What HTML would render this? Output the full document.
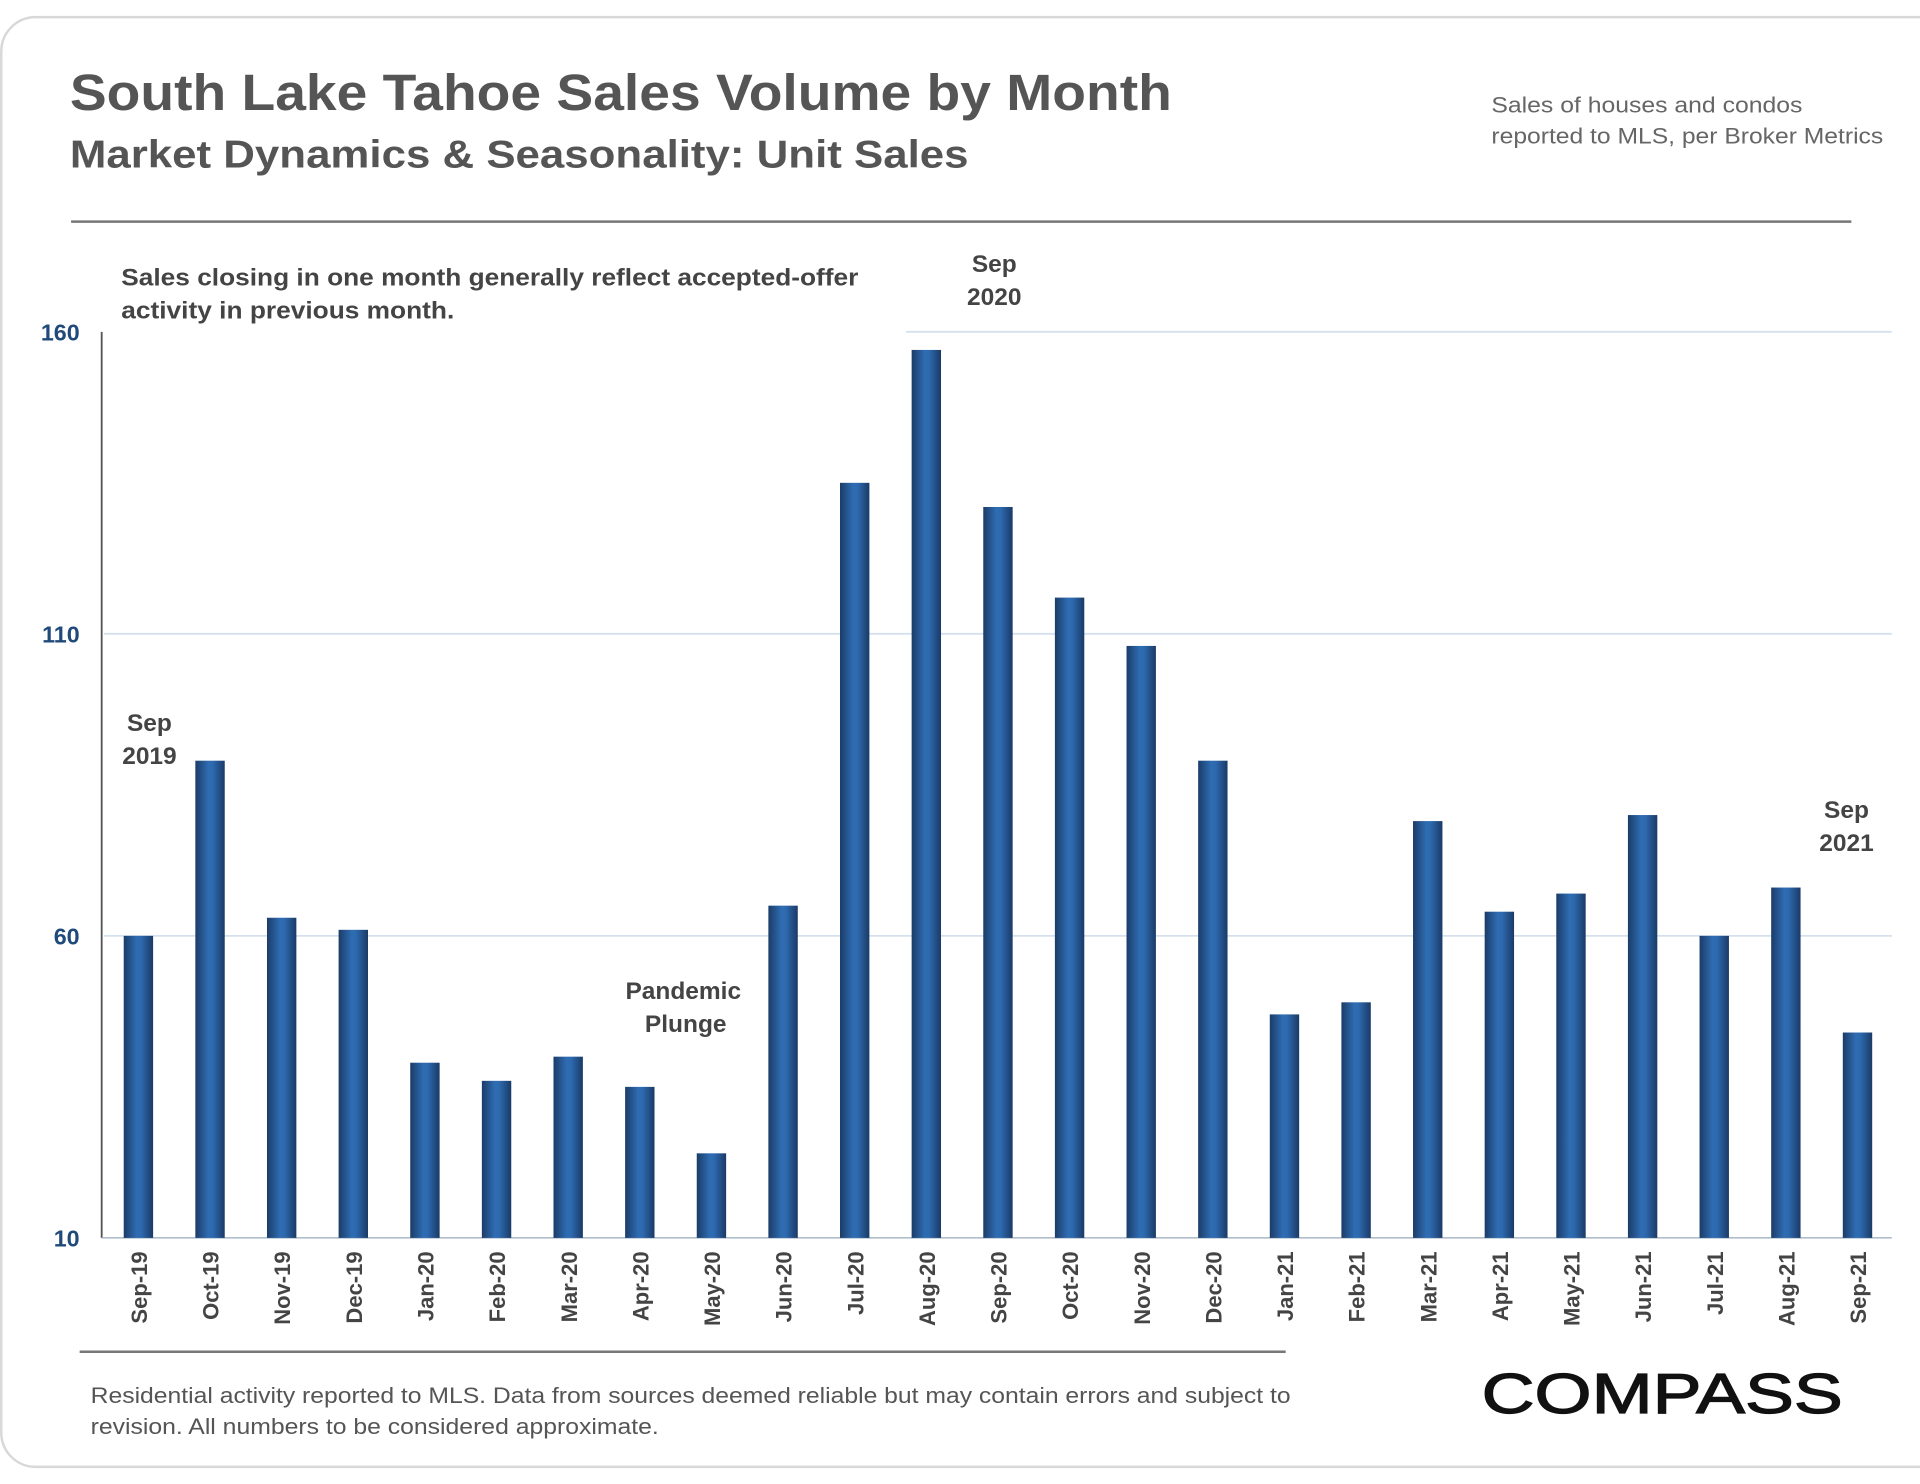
<!DOCTYPE html>
<html><head><meta charset="utf-8"><style>
html,body{margin:0;padding:0;background:#fff;}
svg{display:block;font-family:"Liberation Sans",sans-serif;}
</style></head><body>
<svg width="1920" height="1484" viewBox="0 0 1568 1212" xmlns="http://www.w3.org/2000/svg">
<defs>
<linearGradient id="bg" x1="0" x2="1" y1="0" y2="0">
<stop offset="0" stop-color="#1b3c68"/><stop offset="0.45" stop-color="#2f6db3"/><stop offset="0.6" stop-color="#2d69ae"/><stop offset="1" stop-color="#1a3a66"/>
</linearGradient>
</defs>
<rect x="1" y="14" width="1600" height="1184" rx="28" fill="#fff" stroke="#d8d8d8" stroke-width="2"/>
<text x="57" y="90" font-size="42" font-weight="bold" fill="#555" textLength="900" lengthAdjust="spacingAndGlyphs">South Lake Tahoe Sales Volume by Month</text>
<text x="57" y="137" font-size="32" font-weight="bold" fill="#555" textLength="734" lengthAdjust="spacingAndGlyphs">Market Dynamics &amp; Seasonality: Unit Sales</text>
<text x="1218" y="92" font-size="18" fill="#666" textLength="254" lengthAdjust="spacingAndGlyphs">Sales of houses and condos</text>
<text x="1218" y="117" font-size="18" fill="#666" textLength="320" lengthAdjust="spacingAndGlyphs">reported to MLS, per Broker Metrics</text>
<line x1="58" y1="181" x2="1512" y2="181" stroke="#777" stroke-width="2"/>
<text x="99" y="233" font-size="20" font-weight="bold" fill="#444" textLength="602" lengthAdjust="spacingAndGlyphs">Sales closing in one month generally reflect accepted-offer</text>
<text x="99" y="260" font-size="20" font-weight="bold" fill="#444" textLength="272" lengthAdjust="spacingAndGlyphs">activity in previous month.</text>
<g id="grid"></g>
<line x1="83" y1="271" x2="83" y2="1011" stroke="#555" stroke-width="1.5"/>
<line x1="83" y1="1011" x2="1545" y2="1011" stroke="#9ab" stroke-width="1"/>
<g id="bars"></g>
<g id="xlabels"></g>
<text x="122" y="597" font-size="20" font-weight="bold" fill="#444" text-anchor="middle">Sep</text>
<text x="122" y="624" font-size="20" font-weight="bold" fill="#444" text-anchor="middle">2019</text>
<text x="812" y="222" font-size="20" font-weight="bold" fill="#444" text-anchor="middle">Sep</text>
<text x="812" y="249" font-size="20" font-weight="bold" fill="#444" text-anchor="middle">2020</text>
<text x="1508" y="668" font-size="20" font-weight="bold" fill="#444" text-anchor="middle">Sep</text>
<text x="1508" y="695" font-size="20" font-weight="bold" fill="#444" text-anchor="middle">2021</text>
<text x="558" y="816" font-size="20" font-weight="bold" fill="#444" text-anchor="middle">Pandemic</text>
<text x="560" y="843" font-size="20" font-weight="bold" fill="#444" text-anchor="middle">Plunge</text>
<line x1="65" y1="1104" x2="1050" y2="1104" stroke="#777" stroke-width="2"/>
<text x="74" y="1146" font-size="18" fill="#555" textLength="980" lengthAdjust="spacingAndGlyphs">Residential activity reported to MLS. Data from sources deemed reliable but may contain errors and subject to</text>
<text x="74" y="1171" font-size="18" fill="#555" textLength="464" lengthAdjust="spacingAndGlyphs">revision. All numbers to be considered approximate.</text>
<text x="1210" y="1154" font-size="46" fill="#111" stroke="#111" stroke-width="1" textLength="295" lengthAdjust="spacingAndGlyphs">COMPASS</text>
</svg>
<script>
const categories=["Sep-19","Oct-19","Nov-19","Dec-19","Jan-20","Feb-20","Mar-20","Apr-20","May-20","Jun-20","Jul-20","Aug-20","Sep-20","Oct-20","Nov-20","Dec-20","Jan-21","Feb-21","Mar-21","Apr-21","May-21","Jun-21","Jul-21","Aug-21","Sep-21"];
const sales=[60,89,63,61,39,36,40,35,24,65,135,157,131,116,108,89,47,49,79,64,67,80,60,68,44];
const yTicks=[10,60,110,160];
const NS="http://www.w3.org/2000/svg";
const y=v=>1011-(v-10)*(740/150);
const x=i=>113+i*58.5;
const grid=document.getElementById('grid'),bars=document.getElementById('bars'),xl=document.getElementById('xlabels');
yTicks.forEach(t=>{
  if(t>10){const l=document.createElementNS(NS,'line');
  
  
  l.setAttribute('x1',t===160?740:85);l.setAttribute('x2',1545);l.setAttribute('y1',y(t));l.setAttribute('y2',y(t));
  l.setAttribute('stroke','#d5e0ee');l.setAttribute('stroke-width','1.5');grid.appendChild(l);}
  const tx=document.createElementNS(NS,'text');
  
  
  tx.setAttribute('x',65);tx.setAttribute('y',y(t)+7);tx.setAttribute('text-anchor','end');
  tx.setAttribute('font-size','19');tx.setAttribute('font-weight','bold');tx.setAttribute('fill','#1f4a7a');
  tx.textContent=t;grid.appendChild(tx);
});
sales.forEach((v,i)=>{
  const r=document.createElementNS(NS,'rect');
  
  
  r.setAttribute('x',x(i)-12);r.setAttribute('width',24);r.setAttribute('y',y(v));r.setAttribute('height',1011-y(v));
  r.setAttribute('fill','url(#bg)');bars.appendChild(r);
  const t=document.createElementNS(NS,'text');
  
  
  t.setAttribute('transform',`translate(${x(i)+7},1022) rotate(-90)`);
  t.setAttribute('text-anchor','end');t.setAttribute('font-size','18');t.setAttribute('font-weight','bold');t.setAttribute('fill','#444');
  t.textContent=categories[i];xl.appendChild(t);
});
</script>
</body></html>
